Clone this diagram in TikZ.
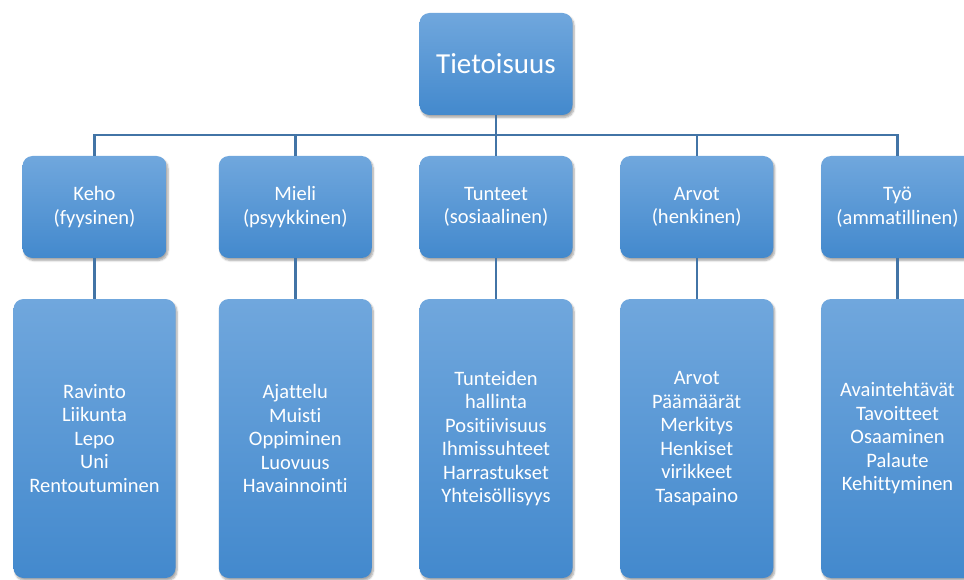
\documentclass[tikz,border=0pt]{standalone}
\usepackage{fontspec}
\setmainfont{Carlito}[Ligatures={NoCommon}]
\usepackage{tikz}
\usetikzlibrary{trees,positioning,shadows.blur}

\definecolor{boxtop}{RGB}{112,167,221}
\definecolor{boxbot}{RGB}{67,137,205}
\definecolor{linkcol}{RGB}{66,116,166}

\begin{document}
\begin{tikzpicture}[x=1pt,y=1pt]
\tikzstyle{bluebox}=[rectangle, rounded corners=10pt, top color=boxtop, bottom color=boxbot, text=white, align=center, inner sep=0pt, minimum width=153pt, minimum height=102pt, font=\fontsize{20.5}{23.5}\selectfont, blur shadow={shadow blur steps=6, shadow xshift=1.5pt, shadow yshift=-2.5pt, shadow opacity=35}]
\tikzstyle{listbox}=[bluebox, minimum height=279pt]
\tikzstyle{conn}=[draw=linkcol, line width=2.5pt]
\tikzstyle{edge from parent}=[draw=none]
\tikzstyle{level 1}=[sibling distance=200.75pt, level distance=143pt]
\tikzstyle{level 2}=[level distance=231.5pt]
\useasboundingbox (0,0) rectangle (964,-580);
\node[bluebox, font=\fontsize{29}{34}\selectfont] (top) at (496,-64) {Tietoisuus}
child {node[bluebox, minimum width=144pt] (keho) {Keho\\(fyysinen)}
  child {node[listbox, minimum width=162pt] (kehoL) {Ravinto\\Liikunta\\Lepo\\Uni\\Rentoutuminen}}}
child {node[bluebox] (mieli) {Mieli\\(psyykkinen)}
  child {node[listbox] (mieliL) {Ajattelu\\Muisti\\Oppiminen\\Luovuus\\Havainnointi}}}
child {node[bluebox] (tunteet) {Tunteet\\(sosiaalinen)}
  child {node[listbox] (tunteetL) {Tunteiden\\hallinta\\Positiivisuus\\Ihmissuhteet\\Harrastukset\\Yhteisöllisyys}}}
child {node[bluebox] (arvot) {Arvot\\(henkinen)}
  child {node[listbox] (arvotL) {Arvot\\Päämäärät\\Merkitys\\Henkiset\\virikkeet\\Tasapaino}}}
child {node[bluebox] (tyo) {Työ\\(ammatillinen)}
  child {node[listbox] (tyoL) {Avaintehtävät\\Tavoitteet\\Osaaminen\\Palaute\\Kehittyminen}}};

% connectors
\coordinate (bus) at ([yshift=-20pt]top.south);
\foreach \n in {keho,mieli,tunteet,arvot,tyo}{
  \draw[conn] (top.south) -- (bus) -| (\n.north);
  \draw[conn] (\n.south) -- (\n L.north);
}
\end{tikzpicture}
\end{document}
